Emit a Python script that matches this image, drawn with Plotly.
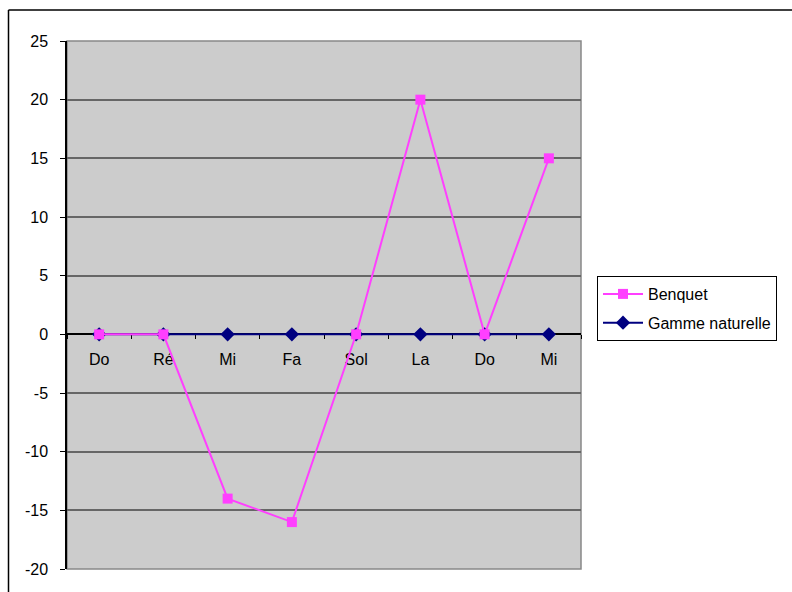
import plotly.graph_objects as go

# Note names along the horizontal axis (repeated names are distinct positions)
notes = ["Do", "Ré", "Mi", "Fa", "Sol", "La", "Do", "Mi"]
positions = list(range(len(notes)))

# Deviation values per note
benquet = [0, 0, -14, -16, 0, 20, 0, 15]
gamme_naturelle = [0, 0, 0, 0, 0, 0, 0, 0]

y_ticks = [-20, -15, -10, -5, 0, 5, 10, 15, 20, 25]
y_tick_text = [str(v) for v in y_ticks]

FONT = "Liberation Sans, Arial, sans-serif"
PINK = "#FF3FFF"
NAVY = "#000080"

fig = go.Figure()

fig.add_trace(go.Scatter(
    x=positions, y=gamme_naturelle, name="Gamme naturelle",
    mode="lines+markers", legendrank=2, legendgroup="gamme",
    line=dict(color=NAVY, width=2),
    marker=dict(symbol="diamond", size=11, color=NAVY),
))
fig.add_trace(go.Scatter(
    x=positions, y=benquet, name="Benquet",
    mode="lines+markers", legendrank=1, legendgroup="benquet",
    line=dict(color=PINK, width=2),
    marker=dict(symbol="square", size=10, color=PINK),
))

# plot area: pixels 67..581 horizontally, 41..569 vertically
W, H = 792, 592
L, R, T, B = 67, 211, 41, 23
pw, ph = W - L - R, H - T - B

def px_x(p):
    return (p - L) / pw

def px_y(p):
    return (H - B - p) / ph

ymin, ymax = y_ticks[0], y_ticks[-1]
zero_pos = (0 - ymin) / (ymax - ymin)

fig.update_layout(
    width=W, height=H,
    margin=dict(l=L, r=R, t=T, b=B, pad=0),
    paper_bgcolor="white",
    plot_bgcolor="#CCCCCC",
    font=dict(family=FONT, size=16, color="black"),
    showlegend=True,
    legend=dict(
        x=px_x(597), y=px_y(276), xanchor="left", yanchor="top",
        bordercolor="black", borderwidth=1, bgcolor="white",
        traceorder="grouped", tracegroupgap=5, itemwidth=40,
        font=dict(family=FONT, size=16, color="black"),
    ),
    xaxis=dict(
        range=[-0.5, len(notes) - 0.5],
        tickvals=positions, ticktext=notes,
        ticks="", showgrid=False, zeroline=False,
        anchor="free", position=zero_pos,
        showline=True, linecolor="black", linewidth=1.5,
        layer="below traces",
        ticklabelstandoff=11,
        minor=dict(tick0=-0.5, dtick=1, ticks="outside", ticklen=4,
                   tickcolor="black", tickwidth=1, showgrid=False),
        tickfont=dict(family=FONT, size=16),
    ),
    yaxis=dict(
        range=[ymin, ymax], tickvals=y_ticks, ticktext=y_tick_text,
        ticks="outside", ticklen=5, tickcolor="black", tickwidth=1,
        showline=True, linecolor="black", linewidth=1.5,
        showgrid=True, gridcolor="#666666", gridwidth=1.5,
        zeroline=False, ticklabelstandoff=9, layer="below traces",
        tickfont=dict(family=FONT, size=16),
    ),
    shapes=[
        # plot area border
        dict(type="rect", xref="paper", yref="paper", x0=0, x1=1, y0=0, y1=1,
             line=dict(color="#888888", width=1.5), layer="below"),
        # chart frame (left and top edges)
        dict(type="line", xref="paper", yref="paper",
             x0=px_x(8.5), x1=px_x(8.5), y0=px_y(10), y1=px_y(600),
             line=dict(color="black", width=1.5)),
        dict(type="line", xref="paper", yref="paper",
             x0=px_x(8.5), x1=px_x(800), y0=px_y(10), y1=px_y(10),
             line=dict(color="black", width=1.5)),
    ],
)

fig.write_html("out.html")
